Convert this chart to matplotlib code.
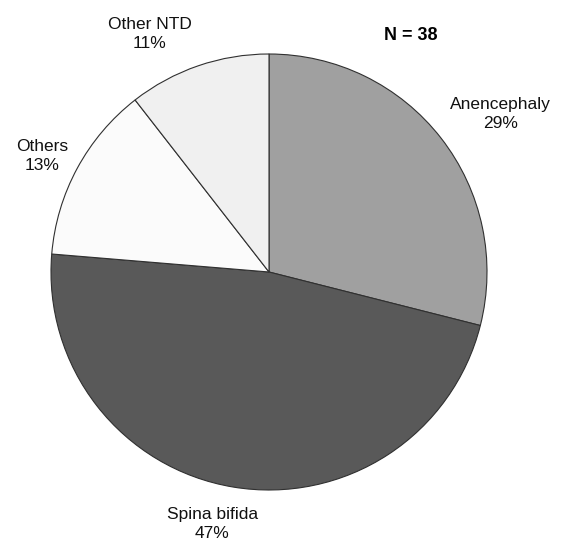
import matplotlib
matplotlib.use('Agg')
import matplotlib.pyplot as plt
import numpy as np

plt.rcParams['font.family'] = ['Liberation Sans', 'DejaVu Sans']

# data (N = 38)
labels = ['Anencephaly', 'Spina bifida', 'Others', 'Other NTD']
counts = [11, 18, 5, 4]
colors = ['#a0a0a0', '#595959', '#fbfbfb', '#f0f0f0']
total = sum(counts)

fig = plt.figure(figsize=(5.63, 5.42), dpi=100)
ax = fig.add_axes([(269 - 218) / 563, (270 - 218) / 542, 436 / 563, 436 / 542])

txt = ['%s\n%d%%' % (l, round(100.0 * c / total)) for l, c in zip(labels, counts)]
wedges, texts = ax.pie(counts, labels=txt, colors=colors, startangle=90,
                       counterclock=False, labeldistance=1.17,
                       wedgeprops=dict(edgecolor='#303030', linewidth=0.8),
                       textprops=dict(fontsize=12.5, color='#111111'))
for t in texts:
    t.set_ha('center')
    t.set_va('center')
    t.set_linespacing(1.3)

# Excel places the labels a bit off the mid angle
texts[0].set_position((1.06, 0.725))
texts[1].set_position((-0.26, -1.156))
texts[2].set_position((-1.041, 0.532))
texts[3].set_position((-0.546, 1.092))

ax.text(0.651, 1.087, 'N = %d' % total, fontsize=13, fontweight='bold',
        ha='center', va='center')
ax.set_xlim(-1, 1)
ax.set_ylim(-1, 1)
ax.set_aspect('equal')
ax.axis('off')

fig.savefig('out.png', dpi=100)
